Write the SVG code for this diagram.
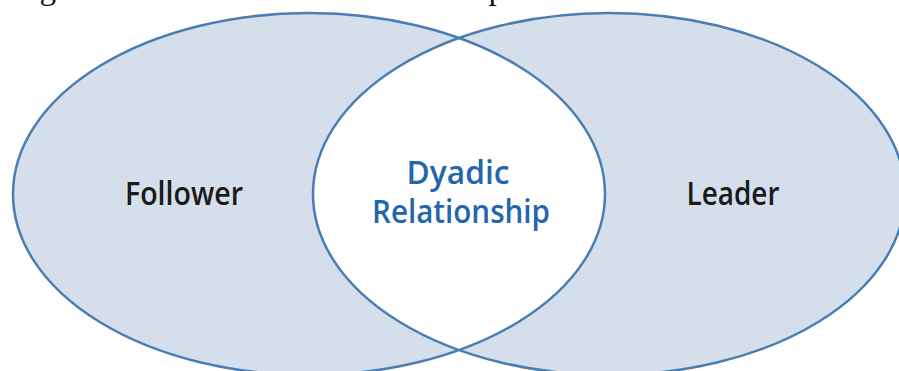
<svg xmlns="http://www.w3.org/2000/svg" width="899" height="371" viewBox="0 0 899 371">
<style>
.fill{fill:#d5dfec;stroke:none}
.edge{fill:none;stroke:#4a7db3;stroke-width:2.5}
.side{font-family:"Open Sans","Noto Sans",sans-serif;font-weight:600;font-size:33px;fill:#1a1a1a;text-anchor:middle}
.mid{font-family:"Open Sans","Noto Sans",sans-serif;font-weight:600;font-size:32px;fill:#2466ab;text-anchor:middle}
.cap{font-family:"Liberation Serif",serif;font-size:32px;fill:#111}
</style>
<defs>
<clipPath id="clipL"><ellipse cx="309" cy="194" rx="296" ry="181"/></clipPath>
</defs>
<rect width="899" height="371" fill="#ffffff"/>
<text class="cap" x="12" y="-1" textLength="493" lengthAdjust="spacingAndGlyphs">Figure 7.1 Dimensions of Leadership</text>
<g id="follower">
<ellipse class="fill" cx="309" cy="194" rx="296" ry="181"/>
</g>
<g id="leader">
<ellipse class="fill" cx="609" cy="194" rx="296" ry="181"/>
</g>
<g id="dyadic">
<ellipse cx="609" cy="194" rx="296" ry="181" fill="#ffffff" clip-path="url(#clipL)"/>
</g>
<g id="connectors">
<ellipse class="edge" cx="309" cy="194" rx="296" ry="181"/>
<ellipse class="edge" cx="609" cy="194" rx="296" ry="181"/>
</g>
<text class="side" x="184" y="205" textLength="118" lengthAdjust="spacingAndGlyphs">Follower</text>
<text class="side" x="733" y="205" textLength="93" lengthAdjust="spacingAndGlyphs">Leader</text>
<text class="mid" x="458" y="184" textLength="103" lengthAdjust="spacingAndGlyphs">Dyadic</text>
<text class="mid" x="461" y="223" textLength="178" lengthAdjust="spacingAndGlyphs">Relationship</text>
</svg>
